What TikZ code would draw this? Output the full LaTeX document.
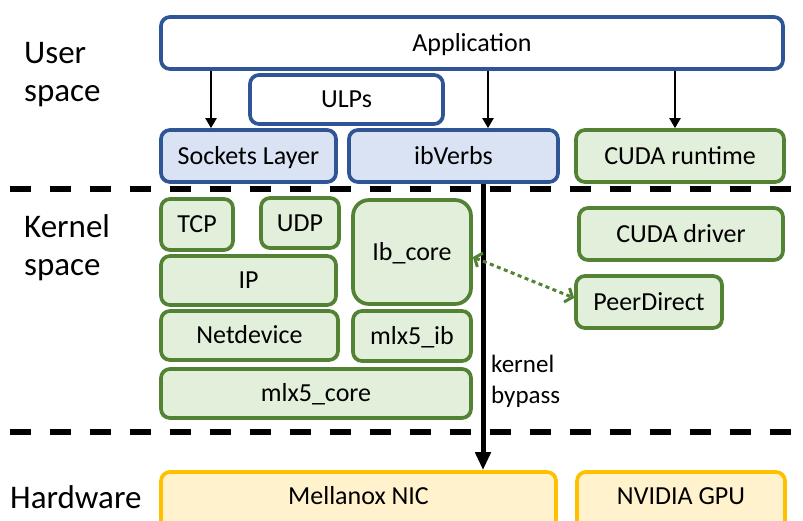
\documentclass[tikz,border=0pt]{standalone}
\usepackage{fontspec}
\setmainfont{Carlito}
\usetikzlibrary{arrows.meta}
\definecolor{bluB}{HTML}{2F5597}
\definecolor{bluF}{HTML}{DAE3F3}
\definecolor{grnB}{HTML}{548235}
\definecolor{grnF}{HTML}{E2EFDA}
\definecolor{ylwB}{HTML}{FFC000}
\definecolor{ylwF}{HTML}{FFF2CC}
\begin{document}
\begin{tikzpicture}[x=1pt,y=-1pt,
  base/.style={line width=3.7pt, rounded corners=9pt, inner sep=0pt, align=center,
    text height=17.5pt, text depth=0.7pt,
    font=\fontsize{26}{30}\selectfont},
  ubox/.style={base, draw=bluB, fill=white},
  sbox/.style={base, draw=bluB, fill=bluF},
  gbox/.style={base, draw=grnB, fill=grnF},
  ybox/.style={base, draw=ylwB, fill=ylwF},
  lbl/.style={inner sep=0pt, align=left, font=\fontsize{33}{38}\selectfont},
  sep/.style={line width=5.5pt, dash pattern=on 21pt off 19pt},
  thin/.style={line width=2.2pt, -{Triangle[length=10pt,width=11pt]}},
  thick/.style={line width=5pt, -{Triangle[length=18pt,width=15pt]}},
  dotarr/.style={draw=grnB, line width=3pt, dash pattern=on 4pt off 3.5pt,
    {Straight Barb[length=6pt,width=15pt,line width=3pt]}-{Straight Barb[length=6pt,width=15pt,line width=3pt]}}
]
\useasboundingbox (0,0) rectangle (803,520);
\clip (0,0) rectangle (803,520);

% separators
\coordinate (s1a) at (10,189);
\coordinate (s1b) at (803,189);
\coordinate (s2a) at (10,432);
\coordinate (s2b) at (803,432);
\draw[sep] (s1a) -- (s1b);
\draw[sep] (s2a) -- (s2b);

% user space
\node[ubox, minimum width=622pt, minimum height=52pt] (app) at (472,43) {Application};
\node[ubox, minimum width=193pt, minimum height=49pt] (ulp) at (346.5,99.5) {ULPs};
\node[sbox, minimum width=175pt, minimum height=52pt] (sock) at (248.5,156) {Sockets Layer};
\node[sbox, minimum width=209pt, minimum height=52pt] (ibv) at (453.5,156) {ibVerbs};
\node[gbox, minimum width=208pt, minimum height=52pt] (cudart) at (680,156) {CUDA runtime};

% kernel space
\node[gbox, minimum width=72pt, minimum height=51pt] (tcp) at (197,224.5) {TCP};
\node[gbox, minimum width=78pt, minimum height=50pt] (udp) at (300,223) {UDP};
\node[gbox, minimum width=175pt, minimum height=49pt] (ip) at (248.5,280.5) {IP};
\node[gbox, minimum width=177pt, minimum height=49pt] (netdev) at (249.5,335.5) {Netdevice};
\node[gbox, rounded corners=16pt, minimum width=118pt, minimum height=104pt] (ibcore) at (412,252) {Ib\_core};
\node[gbox, minimum width=118pt, minimum height=50pt] (mlxib) at (412,336) {mlx5\_ib};
\node[gbox, minimum width=310pt, minimum height=49pt] (mlxcore) at (316,393.5) {mlx5\_core};
\node[gbox, minimum width=204pt, minimum height=52pt] (cudadrv) at (681,234) {CUDA driver};
\node[gbox, minimum width=146pt, minimum height=52pt] (peer) at (649,302) {PeerDirect};

% hardware
\node[ybox, minimum width=395pt, minimum height=62pt, text depth=13.8pt] (nic) at (358.5,503) {Mellanox NIC};
\node[ybox, minimum width=208pt, minimum height=62pt, text depth=13.8pt] (gpu) at (681,503) {NVIDIA GPU};

% side labels
\node[lbl, anchor=west] (ulab) at (24,75) {User\\space};
\node[lbl, anchor=west] (klab) at (24,248) {Kernel\\space};
\node[lbl, anchor=west] (hlab) at (10,497) {Hardware};
\node[inner sep=0pt, align=left, anchor=west, font=\fontsize{25}{31}\selectfont] (kb) at (491,381) {kernel\\bypass};

% arrows
\coordinate (xa) at (211,0);
\coordinate (xb) at (488,0);
\coordinate (xc) at (675,0);
\coordinate (xd) at (483,0);
\draw[thin] (xa |- app.south) -- (xa |- sock.north);
\draw[thin] (xb |- app.south) -- (xb |- ibv.north);
\draw[thin] (xc |- app.south) -- (xc |- cudart.north);
\draw[thick] (xd |- ibv.south) -- (xd |- nic.north);
\draw[dotarr] ([yshift=-5pt]ibcore.east) -- ([yshift=4pt]peer.west);
\end{tikzpicture}
\end{document}
